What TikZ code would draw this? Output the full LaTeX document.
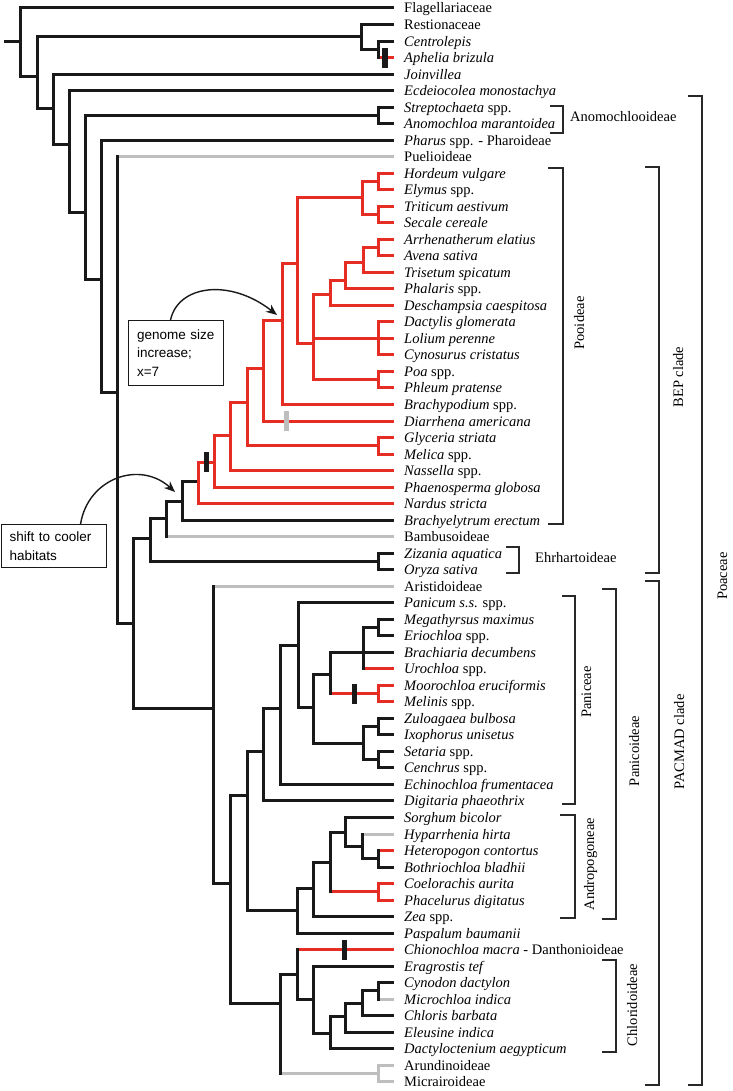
\documentclass[tikz,border=0pt]{standalone}
\usepackage{fontspec}
\setmainfont{Liberation Serif}
\setsansfont{Liberation Sans}
\usetikzlibrary{arrows.meta}
\definecolor{treered}{RGB}{230,45,35}
\definecolor{treegray}{RGB}{190,190,190}
\definecolor{treeblack}{RGB}{25,25,25}
\definecolor{brkcol}{RGB}{40,40,40}
\newcommand{\labfont}{\fontsize{14.5}{17}\selectfont}
\newcommand{\boxfont}{\sffamily\fontsize{13.5}{18.5}\selectfont}
\newcommand{\edgeh}[3][blk]{\draw[tree,#1] (#2 |- #3) -- (#3);}
\newcommand{\edgev}[4][blk]{\draw[tree,#1] (#2 |- #3) -- (#2 |- #4);}
\begin{document}
\begin{tikzpicture}[x=1pt,y=-1pt,
  tree/.style={line width=3pt,line cap=rect},
  blk/.style={draw=treeblack},
  rd/.style={draw=treered},
  gr/.style={draw=treegray},
  lab/.style={anchor=base west,inner sep=0pt,font=\labfont},
  rlab/.style={rotate=90,anchor=base,inner sep=0pt,font=\labfont},
  brk/.style={draw=brkcol,line width=1.5pt,line join=miter},
  bar/.style={fill=treeblack,draw=none,minimum width=5.5pt,minimum height=20pt,inner sep=0pt},
  annot/.style={draw=treeblack,line width=1.1pt,anchor=north west,align=left,font=\boxfont,inner ysep=0pt},
  arr/.style={draw=treeblack,line width=1.4pt,-{Stealth[length=11pt,width=9pt]}}]
\useasboundingbox (0,0) rectangle (732,1091);
\fill[white] (0,0) rectangle (732,1091);

% leaf tips
\foreach \i in {1,...,66} {\coordinate (L\i) at (392,{8+(\i-1)*16.52});}

% internal nodes
\coordinate (rt) at (5,42);
\coordinate (N0) at (20,42);
\coordinate (N1) at (37,77);
\coordinate (R) at (361,37);
\coordinate (CA) at (378,49.30);
\coordinate (N2) at (53,109);
\coordinate (N3) at (69,145);
\coordinate (N4) at (85,213);
\coordinate (SA) at (378,115.38);
\coordinate (N5) at (101,279);
\coordinate (N6) at (117,392);
\coordinate (N7) at (133,623);
\coordinate (B0) at (150,538);
\coordinate (EZ) at (378,561.42);
\coordinate (B1) at (166,518);
\coordinate (B2) at (182,501);
\coordinate (P0) at (198,481);
\coordinate (P1) at (214,462);
\coordinate (P2) at (230,435);
\coordinate (P3) at (247,402);
\coordinate (GM) at (378,445.78);
\coordinate (P4) at (263,368);
\coordinate (P5) at (282,320);
\coordinate (P6) at (297,263);
\coordinate (T0) at (362,198);
\coordinate (HE) at (378,181.46);
\coordinate (TS) at (378,214.50);
\coordinate (P7) at (313,343);
\coordinate (P8) at (330,294);
\coordinate (Q1) at (345,280);
\coordinate (Q2) at (363,262);
\coordinate (AA) at (378,247.54);
\coordinate (DLC) at (378,338.40);
\coordinate (PP) at (378,379.70);
\coordinate (M0) at (213,708);
\coordinate (M1) at (230,883);
\coordinate (M2) at (247,795);
\coordinate (M3) at (263,751);
\coordinate (M4) at (280,708);
\coordinate (Pn0) at (298,645);
\coordinate (Pn1) at (313,707);
\coordinate (Pn2) at (330,674);
\coordinate (Pn4) at (363,652.28);
\coordinate (ME) at (378,627.50);
\coordinate (MM) at (378,693.58);
\coordinate (Pn3) at (363,743);
\coordinate (ZI) at (378,726.62);
\coordinate (SC) at (378,759.66);
\coordinate (A0) at (297,910);
\coordinate (A1) at (313,888);
\coordinate (A2) at (330,862);
\coordinate (A3) at (345,832);
\coordinate (A4) at (362,846);
\coordinate (HB) at (378,858.78);
\coordinate (CP) at (378,891.82);
\coordinate (CR) at (280,1003);
\coordinate (C0) at (297,974);
\coordinate (C1) at (313,999);
\coordinate (C2) at (330,1033);
\coordinate (C3) at (345,1016);
\coordinate (C4) at (362,1003);
\coordinate (CM) at (378,990.94);
\coordinate (AM) at (378,1073.54);

% ---------- horizontal branches ----------
\draw[tree,blk] (rt) -- (N0);
\edgeh{N0}{L1} \edgeh{N0}{N1}
\edgeh{N1}{R} \edgeh{N1}{N2}
\edgeh{R}{L2} \edgeh{R}{CA}
\edgeh{CA}{L3} \edgeh[rd]{CA}{L4}
\edgeh{N2}{L5} \edgeh{N2}{N3}
\edgeh{N3}{L6} \edgeh{N3}{N4}
\edgeh{N4}{SA} \edgeh{N4}{N5}
\edgeh{SA}{L7} \edgeh{SA}{L8}
\edgeh{N5}{L9} \edgeh{N5}{N6}
\edgeh[gr]{N6}{L10} \edgeh{N6}{N7}
\edgeh{N7}{B0} \edgeh{N7}{M0}
\edgeh{B0}{B1} \edgeh{B0}{EZ}
\edgeh{EZ}{L34} \edgeh{EZ}{L35}
\edgeh{B1}{B2} \edgeh[gr]{B1}{L33}
\edgeh{B2}{P0} \edgeh{B2}{L32}
\edgeh[rd]{P0}{P1} \edgeh[rd]{P0}{L31}
\edgeh[rd]{P1}{P2} \edgeh[rd]{P1}{L30}
\edgeh[rd]{P2}{P3} \edgeh[rd]{P2}{L29}
\edgeh[rd]{P3}{P4} \edgeh[rd]{P3}{GM}
\edgeh[rd]{GM}{L27} \edgeh[rd]{GM}{L28}
\edgeh[rd]{P4}{P5} \edgeh[rd]{P4}{L26}
\edgeh[rd]{P5}{P6} \edgeh[rd]{P5}{L25}
\edgeh[rd]{P6}{T0} \edgeh[rd]{P6}{P7}
\edgeh[rd]{T0}{HE} \edgeh[rd]{T0}{TS}
\edgeh[rd]{HE}{L11} \edgeh[rd]{HE}{L12}
\edgeh[rd]{TS}{L13} \edgeh[rd]{TS}{L14}
\edgeh[rd]{P7}{P8} \edgeh[rd]{P7}{DLC} \edgeh[rd]{P7}{PP}
\edgeh[rd]{P8}{Q1} \edgeh[rd]{P8}{L19}
\edgeh[rd]{Q1}{Q2} \edgeh[rd]{Q1}{L18}
\edgeh[rd]{Q2}{AA} \edgeh[rd]{Q2}{L17}
\edgeh[rd]{AA}{L15} \edgeh[rd]{AA}{L16}
\edgeh[rd]{DLC}{L20} \edgeh[rd]{DLC}{L21} \edgeh[rd]{DLC}{L22}
\edgeh[rd]{PP}{L23} \edgeh[rd]{PP}{L24}
\edgeh[gr]{M0}{L36} \edgeh{M0}{M1}
\edgeh{M1}{M2} \edgeh{M1}{CR}
\edgeh{M2}{M3} \edgeh{M2}{A0}
\edgeh{M3}{M4} \edgeh{M3}{L49}
\edgeh{M4}{Pn0} \edgeh{M4}{L48}
\edgeh{Pn0}{L37} \edgeh{Pn0}{Pn1}
\edgeh{Pn1}{Pn2} \edgeh{Pn1}{Pn3}
\edgeh{Pn2}{Pn4} \edgeh[rd]{Pn2}{MM}
\edgeh{Pn4}{ME} \edgeh{Pn4}{L40} \edgeh[rd]{Pn4}{L41}
\edgeh{ME}{L38} \edgeh{ME}{L39}
\edgeh[rd]{MM}{L42} \edgeh[rd]{MM}{L43}
\edgeh{Pn3}{ZI} \edgeh{Pn3}{SC}
\edgeh{ZI}{L44} \edgeh{ZI}{L45}
\edgeh{SC}{L46} \edgeh{SC}{L47}
\edgeh{A0}{A1} \edgeh{A0}{L57}
\edgeh{A1}{A2} \edgeh{A1}{L56}
\edgeh{A2}{A3} \edgeh[rd]{A2}{CP}
\edgeh{A3}{L50} \edgeh{A3}{A4}
\edgeh[gr]{A4}{L51} \edgeh{A4}{HB}
\edgeh[rd]{HB}{L52} \edgeh{HB}{L53}
\edgeh[rd]{CP}{L54} \edgeh[rd]{CP}{L55}
\edgeh{CR}{C0} \edgeh[gr]{CR}{AM}
\edgeh[rd]{C0}{L58} \edgeh{C0}{C1}
\edgeh{C1}{L59} \edgeh{C1}{C2}
\edgeh{C2}{C3} \edgeh{C2}{L64}
\edgeh{C3}{C4} \edgeh{C3}{L63}
\edgeh{C4}{CM} \edgeh{C4}{L62}
\edgeh{CM}{L60} \edgeh[gr]{CM}{L61}
\edgeh[gr]{AM}{L65} \edgeh[gr]{AM}{L66}

% ---------- vertical branches ----------
\edgev{N0}{L1}{N1}
\edgev{N1}{R}{N2}
\edgev{R}{L2}{CA}
\edgev{CA}{L3}{L4}
\edgev{N2}{L5}{N3}
\edgev{N3}{L6}{N4}
\edgev{N4}{SA}{N5}
\edgev{SA}{L7}{L8}
\edgev{N5}{L9}{N6}
\edgev{N6}{L10}{N7}
\edgev{N7}{B0}{M0}
\edgev{B0}{B1}{EZ}
\edgev{EZ}{L34}{L35}
\edgev{B1}{B2}{L33}
\edgev{B2}{P0}{L32}
\edgev[rd]{P0}{P1}{L31}
\edgev[rd]{P1}{P2}{L30}
\edgev[rd]{P2}{P3}{L29}
\edgev[rd]{P3}{P4}{GM}
\edgev[rd]{GM}{L27}{L28}
\edgev[rd]{P4}{P5}{L26}
\edgev[rd]{P5}{P6}{L25}
\edgev[rd]{P6}{T0}{P7}
\edgev[rd]{T0}{HE}{TS}
\edgev[rd]{HE}{L11}{L12}
\edgev[rd]{TS}{L13}{L14}
\edgev[rd]{P7}{P8}{PP}
\edgev[rd]{P8}{Q1}{L19}
\edgev[rd]{Q1}{Q2}{L18}
\edgev[rd]{Q2}{AA}{L17}
\edgev[rd]{AA}{L15}{L16}
\edgev[rd]{DLC}{L20}{L22}
\edgev[rd]{PP}{L23}{L24}
\edgev{M0}{L36}{M1}
\edgev{M1}{M2}{CR}
\edgev{M2}{M3}{A0}
\edgev{M3}{M4}{L49}
\edgev{M4}{Pn0}{L48}
\edgev{Pn0}{L37}{Pn1}
\edgev{Pn1}{Pn2}{Pn3}
\edgev{Pn2}{Pn4}{MM}
\edgev{Pn4}{ME}{L41}
\edgev{ME}{L38}{L39}
\edgev[rd]{MM}{L42}{L43}
\edgev{Pn3}{ZI}{SC}
\edgev{ZI}{L44}{L45}
\edgev{SC}{L46}{L47}
\edgev{A0}{A1}{L57}
\edgev{A1}{A2}{L56}
\edgev{A2}{A3}{CP}
\edgev{A3}{L50}{A4}
\edgev{A4}{L51}{HB}
\edgev{HB}{L52}{L53}
\edgev[rd]{CP}{L54}{L55}
\edgev{CR}{C0}{AM}
\edgev{C0}{L58}{C1}
\edgev{C1}{L59}{C2}
\edgev{C2}{C3}{L64}
\edgev{C3}{C4}{L63}
\edgev{C4}{CM}{L62}
\edgev{CM}{L60}{L61}
\edgev[gr]{AM}{L65}{L66}

% ---------- character bars ----------
\node[bar] (bar1) at (385,57.56) {};
\node[bar] (bar2) at (206.5,462) {};
\node[bar,fill=treegray] (bar3) at (286.5,421) {};
\node[bar] (bar4) at (354.5,693.58) {};
\node[bar] (bar5) at (344.5,949.64) {};

% ---------- leaf labels ----------
\foreach \i/\txt in {
 1/{Flagellariaceae},
 2/{Restionaceae},
 3/{\textit{Centrolepis}},
 4/{\textit{Aphelia brizula}},
 5/{\textit{Joinvillea}},
 6/{\textit{Ecdeiocolea monostachya}},
 7/{\textit{Streptochaeta} spp.},
 8/{\textit{Anomochloa marantoidea}},
 9/{\textit{Pharus} spp. - Pharoideae},
 10/{Puelioideae},
 11/{\textit{Hordeum vulgare}},
 12/{\textit{Elymus} spp.},
 13/{\textit{Triticum aestivum}},
 14/{\textit{Secale cereale}},
 15/{\textit{Arrhenatherum elatius}},
 16/{\textit{Avena sativa}},
 17/{\textit{Trisetum spicatum}},
 18/{\textit{Phalaris} spp.},
 19/{\textit{Deschampsia caespitosa}},
 20/{\textit{Dactylis glomerata}},
 21/{\textit{Lolium perenne}},
 22/{\textit{Cynosurus cristatus}},
 23/{\textit{Poa} spp.},
 24/{\textit{Phleum pratense}},
 25/{\textit{Brachypodium} spp.},
 26/{\textit{Diarrhena americana}},
 27/{\textit{Glyceria striata}},
 28/{\textit{Melica} spp.},
 29/{\textit{Nassella} spp.},
 30/{\textit{Phaenosperma globosa}},
 31/{\textit{Nardus stricta}},
 32/{\textit{Brachyelytrum erectum}},
 33/{Bambusoideae},
 34/{\textit{Zizania aquatica}},
 35/{\textit{Oryza sativa}},
 36/{Aristidoideae},
 37/{\textit{Panicum s.s.} spp.},
 38/{\textit{Megathyrsus maximus}},
 39/{\textit{Eriochloa} spp.},
 40/{\textit{Brachiaria decumbens}},
 41/{\textit{Urochloa} spp.},
 42/{\textit{Moorochloa eruciformis}},
 43/{\textit{Melinis} spp.},
 44/{\textit{Zuloagaea bulbosa}},
 45/{\textit{Ixophorus unisetus}},
 46/{\textit{Setaria} spp.},
 47/{\textit{Cenchrus} spp.},
 48/{\textit{Echinochloa frumentacea}},
 49/{\textit{Digitaria phaeothrix}},
 50/{\textit{Sorghum bicolor}},
 51/{\textit{Hyparrhenia hirta}},
 52/{\textit{Heteropogon contortus}},
 53/{\textit{Bothriochloa bladhii}},
 54/{\textit{Coelorachis aurita}},
 55/{\textit{Phacelurus digitatus}},
 56/{\textit{Zea} spp.},
 57/{\textit{Paspalum baumanii}},
 58/{\textit{Chionochloa macra} - Danthonioideae},
 59/{\textit{Eragrostis tef}},
 60/{\textit{Cynodon dactylon}},
 61/{\textit{Microchloa indica}},
 62/{\textit{Chloris barbata}},
 63/{\textit{Eleusine indica}},
 64/{\textit{Dactyloctenium aegypticum}},
 65/{Arundinoideae},
 66/{Micrairoideae}}
 {\node[lab] (t\i) at ([xshift=12pt,yshift=-5pt]L\i) {\txt};}

% ---------- clade brackets ----------
\draw[brk] (550,106) -- (563,106) -- (563,133) -- (550,133);
\draw[brk] (688,96) -- (702,96) -- (702,1085) -- (688,1085);
\draw[brk] (645,167) -- (659,167) -- (659,573) -- (645,573);
\draw[brk] (645,581) -- (659,581) -- (659,1085) -- (645,1085);
\draw[brk] (548,168) -- (563,168) -- (563,524) -- (548,524);
\draw[brk] (506,547) -- (519,547) -- (519,573) -- (506,573);
\draw[brk] (562,596) -- (575,596) -- (575,804) -- (562,804);
\draw[brk] (602,589) -- (616,589) -- (616,919) -- (602,919);
\draw[brk] (560,815) -- (575,815) -- (575,918) -- (560,918);
\draw[brk] (602,960) -- (616,960) -- (616,1052) -- (602,1052);

\node[lab] (anom) at (570,122) {Anomochlooideae};
\node[lab] (ehrh) at (535,562) {Ehrhartoideae};
\node[rlab] (poac) at (727,576) {Poaceae};
\node[rlab] (bep) at (683,377) {BEP clade};
\node[rlab] (pacm) at (684,742) {PACMAD clade};
\node[rlab] (pooi) at (584,323) {Pooideae};
\node[rlab] (pani) at (591,692) {Paniceae};
\node[rlab] (pnco) at (639,751) {Panicoideae};
\node[rlab] (andr) at (594,864) {Andropogoneae};
\node[rlab] (chlo) at (637,1005) {Chloridoideae};

% ---------- annotation boxes and arrows ----------
\node[annot,text width=78pt,inner xsep=8.5pt,minimum height=65pt] (genbox) at (128,320) {genome size\\increase;\\x=7};
\node[annot,text width=89pt,inner xsep=8pt,minimum height=43pt] (shiftbox) at (1,524) {shift to cooler\\habitats};
\coordinate (gtip) at (277,315);
\coordinate (stip) at (175,492);
\draw[arr] ([xshift=-5.5pt]genbox.north) .. controls (178,285) and (230,278) .. (gtip);
\draw[arr] ([xshift=26.5pt]shiftbox.north) .. controls (88,478) and (140,460) .. (stip);
\end{tikzpicture}
\end{document}
